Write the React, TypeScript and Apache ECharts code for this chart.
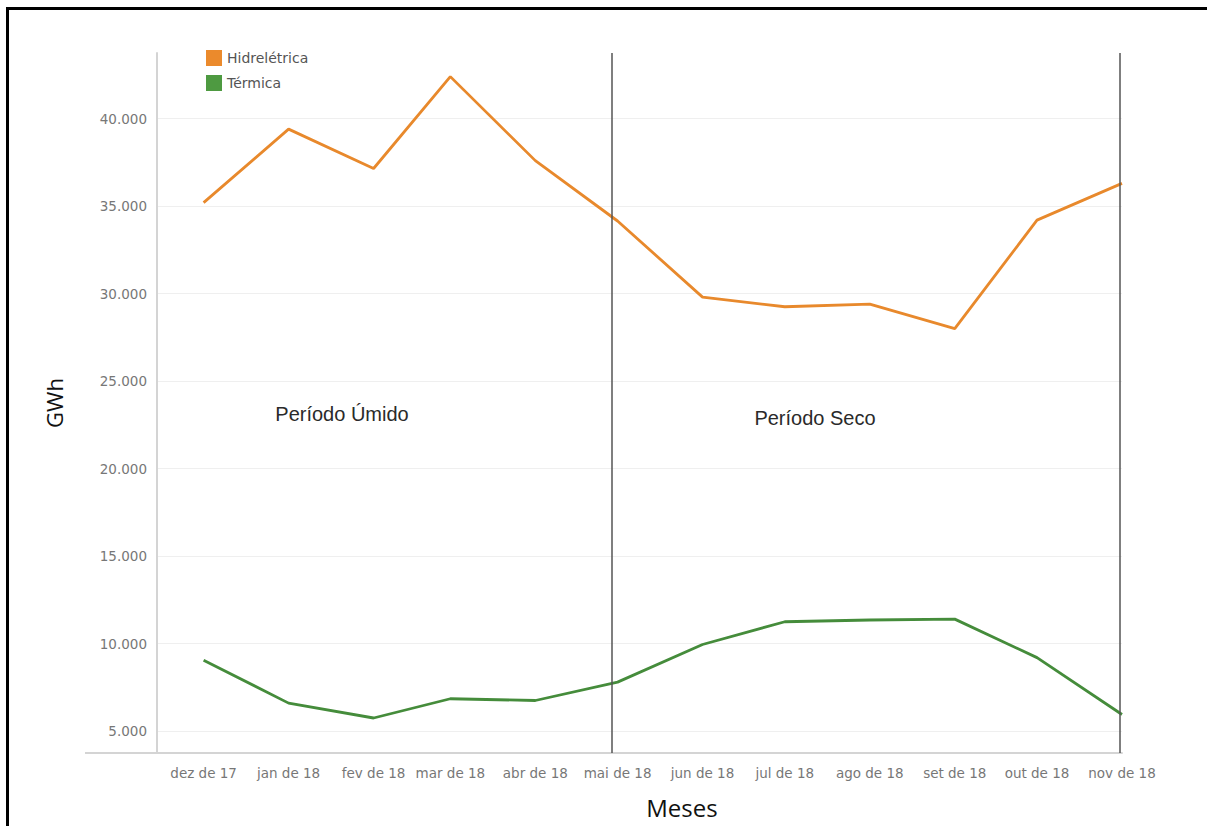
import React, { useEffect, useRef } from "react";
import * as echarts from "echarts";

// ---- data ----
const monthDates = [
  "2017-12-01", "2018-01-01", "2018-02-01", "2018-03-01", "2018-04-01", "2018-05-01",
  "2018-06-01", "2018-07-01", "2018-08-01", "2018-09-01", "2018-10-01", "2018-11-01",
];
const monthLabels = [
  "dez de 17", "jan de 18", "fev de 18", "mar de 18", "abr de 18", "mai de 18",
  "jun de 18", "jul de 18", "ago de 18", "set de 18", "out de 18", "nov de 18",
];
const hidreletrica = [35200, 39400, 37150, 42400, 37600, 34150, 29800, 29250, 29400, 28000, 34200, 36300];
const termica = [9050, 6600, 5750, 6850, 6750, 7800, 9950, 11250, 11350, 11400, 9200, 5950];
const yTicks = [5000, 10000, 15000, 20000, 25000, 30000, 35000, 40000];
const boundaryDates = ["2018-04-29", "2018-10-31"];
const axisStart = "2017-11-14";
const axisEnd = "2018-11-01";
const periodLabels = ["Período Úmido", "Período Seco"];

const DAY = 86400000;
// days are counted in UTC so that no daylight-saving shift can occur
const ts = (s: string) => {
  const [y, m, d] = s.split("-").map(Number);
  return Date.UTC(y, m - 1, d) / DAY;
};
const fmt = (v: number) => String(Math.round(v)).replace(/\B(?=(\d{3})+(?!\d))/g, ".");

export default function App() {
  const ref = useRef<HTMLDivElement>(null);
  useEffect(() => {
    document.body.style.margin = "0";
    document.body.style.overflow = "hidden";
    const chart = echarts.init(ref.current!, null, { renderer: "svg" });
    const monthTs = monthDates.map(ts);
    const labelMap = new Map<number, string>();
    monthTs.forEach((t, i) => labelMap.set(t, monthLabels[i]));
    const axisFont = "DejaVu Sans";
    chart.setOption({
      animation: false,
      backgroundColor: "transparent",
      grid: { left: 157, right: 85, top: 53, bottom: 73, outerBoundsMode: "none", containLabel: false },
      legend: {
        orient: "vertical",
        left: 201,
        top: 45,
        itemWidth: 16,
        itemHeight: 16,
        itemGap: 9,
        icon: "rect",
        textStyle: { fontFamily: axisFont, fontSize: 14, color: "#555" },
        data: ["Hidrelétrica", "Térmica"],
      },
      xAxis: {
        type: "value",
        min: ts(axisStart),
        max: ts(axisEnd),
        name: "Meses",
        nameLocation: "middle",
        nameGap: 42,
        nameTextStyle: { fontFamily: "Open Sans", fontSize: 24, color: "#111", padding: [0, 0, 0, 85] },
        axisLine: { show: true, lineStyle: { color: "#d4d4d4", width: 2 } },
        axisTick: { show: false, customValues: monthTs },
        splitLine: { show: false },
        axisLabel: {
          customValues: monthTs,
          hideOverlap: false,
          margin: 13,
          fontFamily: axisFont,
          fontSize: 13.5,
          color: "#777",
          formatter: (v: number) => labelMap.get(v) ?? "",
        },
      },
      yAxis: {
        type: "value",
        min: 3750,
        max: 43750,
        name: "GWh",
        nameLocation: "middle",
        nameGap: 92,
        nameRotate: 90,
        nameTextStyle: { fontFamily: "Open Sans", fontSize: 22, color: "#111" },
        axisLine: { show: true, lineStyle: { color: "#d4d4d4", width: 2 } },
        axisTick: { show: false, customValues: yTicks },
        splitLine: { show: true, lineStyle: { color: "#efefef", width: 1 } },
        axisLabel: {
          customValues: yTicks,
          margin: 10,
          fontFamily: axisFont,
          fontSize: 13.5,
          color: "#777",
          formatter: (v: number) => fmt(v),
        },
      },
      series: [
        {
          name: "Hidrelétrica",
          type: "line",
          data: monthTs.map((t, i) => [t, hidreletrica[i]]),
          showSymbol: false,
          symbol: "none",
          color: "#EB8A2C",
          lineStyle: { width: 2.8, color: "#E8892C" },
          markLine: {
            silent: true,
            symbol: "none",
            label: { show: false },
            lineStyle: { color: "#555", width: 1.5, type: "solid" },
            data: boundaryDates.map((d) => ({ xAxis: ts(d) })),
          },
          z: 3,
        },
        {
          name: "Térmica",
          type: "line",
          data: monthTs.map((t, i) => [t, termica[i]]),
          showSymbol: false,
          symbol: "none",
          color: "#4E9A41",
          lineStyle: { width: 2.8, color: "#458C3B" },
          z: 3,
        },
      ],
      graphic: [
        {
          type: "line",
          shape: { x1: 85, y1: 753, x2: 157, y2: 753 },
          style: { stroke: "#d4d4d4", lineWidth: 2 },
        },
        {
          type: "text",
          x: 342,
          y: 414,
          style: {
            text: periodLabels[0],
            fontFamily: "Liberation Sans",
            fontSize: 20,
            fill: "#2a2a2a",
            align: "center",
            verticalAlign: "middle",
          },
        },
        {
          type: "text",
          x: 815,
          y: 418,
          style: {
            text: periodLabels[1],
            fontFamily: "Liberation Sans",
            fontSize: 20,
            fill: "#2a2a2a",
            align: "center",
            verticalAlign: "middle",
          },
        },
      ],
    });
    return () => chart.dispose();
  }, []);

  return (
    <div style={{ position: "fixed", left: 0, top: 0, width: 1207, height: 826, overflow: "hidden", background: "#fff" }}>
      <div
        style={{
          position: "absolute",
          left: 6,
          top: 7,
          width: 1240,
          height: 860,
          border: "3px solid #000",
          boxSizing: "border-box",
        }}
      />
      <div ref={ref} style={{ position: "absolute", left: 0, top: 0, width: 1207, height: 826 }} />
    </div>
  );
}
